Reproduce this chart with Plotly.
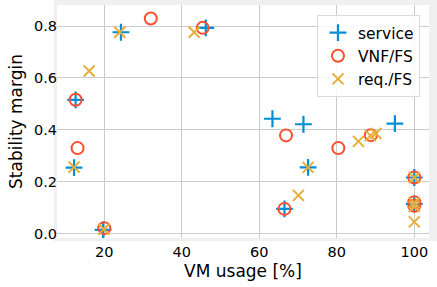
import plotly.graph_objects as go

# service (+)
service_x = [12.2, 12.6, 19.7, 24.3, 46.2, 63.4, 71.4, 72.6, 66.5, 95.0, 100.0, 100.0]
service_y = [0.255, 0.516, 0.015, 0.776, 0.793, 0.443, 0.422, 0.256, 0.096, 0.424, 0.217, 0.115]
# VNF/FS (o)
vnf_x = [12.6, 13.1, 20.0, 32.0, 45.4, 66.9, 80.4, 66.5, 88.8, 100.0, 100.0, 100.0]
vnf_y = [0.516, 0.330, 0.022, 0.829, 0.793, 0.379, 0.330, 0.096, 0.380, 0.217, 0.122, 0.108]
# req./FS (x)
req_x = [12.2, 16.1, 19.9, 24.0, 43.2, 72.6, 70.1, 85.6, 88.7, 90.1, 100.0, 100.0, 100.0, 100.0]
req_y = [0.257, 0.627, 0.018, 0.776, 0.776, 0.256, 0.148, 0.356, 0.378, 0.386, 0.217, 0.120, 0.105, 0.046]

x_ticks = [20, 40, 60, 80, 100]
y_ticks = [0.0, 0.2, 0.4, 0.6, 0.8]
y_tick_text = ["0.0", "0.2", "0.4", "0.6", "0.8"]

FONT = "DejaVu Sans"
fig = go.Figure()
fig.add_trace(go.Scatter(
    x=service_x, y=service_y, mode="markers", name="service", legendgroup="a",
    marker=dict(symbol="cross-thin", size=12, line=dict(width=2.2, color="#008fd5"), color="#008fd5")))
fig.add_trace(go.Scatter(
    x=vnf_x, y=vnf_y, mode="markers", name="VNF/FS", legendgroup="b",
    marker=dict(symbol="circle-open", size=12, line=dict(width=2, color="#fc4f30"), color="#fc4f30")))
fig.add_trace(go.Scatter(
    x=req_x, y=req_y, mode="markers", name="req./FS", legendgroup="c",
    marker=dict(symbol="x-thin", size=11, line=dict(width=2, color="#e5ae38"), color="#e5ae38")))

gray = "#f0f0f0"
L, R, T, B = 57, 8, 5, 49
W, H = 437, 287
pw, ph = W - L - R, H - T - B
def px2x(p): return (p - L) / pw
def py2y(p): return (H - B - p) / ph
strips = [
    (px2x(54), px2x(57), py2y(241), py2y(0)),
    (px2x(54), px2x(437), py2y(5), py2y(0)),
    (px2x(429), px2x(437), py2y(241), py2y(0)),
    (px2x(54), px2x(437), py2y(241), py2y(238)),
]
shapes = [dict(type="rect", xref="paper", yref="paper", x0=a, x1=b, y0=c, y1=d,
               fillcolor=gray, line=dict(width=0), layer="below") for a, b, c, d in strips]

fig.update_layout(
    width=W, height=H,
    margin=dict(l=L, r=R, t=T, b=B),
    paper_bgcolor="white", plot_bgcolor="white",
    font=dict(family=FONT, size=14, color="black"),
    shapes=shapes,
    showlegend=True,
    legend=dict(x=px2x(317), y=py2y(15), xanchor="left", yanchor="top",
                tracegroupgap=3, traceorder="normal",
                bgcolor="rgba(255,255,255,0.85)", bordercolor="#d9d9d9", borderwidth=1,
                font=dict(family=FONT, size=15.5, color="black")),
    xaxis=dict(range=[7.8, 103.8], tickvals=x_ticks, showgrid=True, gridcolor="#cbcbcb",
               gridwidth=1, zeroline=False, showline=False, ticks="",
               ticklabelstandoff=3,
               title=dict(text="VM usage [%]", font=dict(size=17), standoff=6),
               tickfont=dict(size=14.5)),
    yaxis=dict(range=[-0.016, 0.881], tickvals=y_ticks, ticktext=y_tick_text, showgrid=True,
               gridcolor="#cbcbcb", gridwidth=1, zeroline=False, showline=False, ticks="",
               ticklabelstandoff=-1,
               title=dict(text="Stability margin", font=dict(size=17), standoff=6),
               tickfont=dict(size=14.5)),
)
fig.write_html("out.html")
